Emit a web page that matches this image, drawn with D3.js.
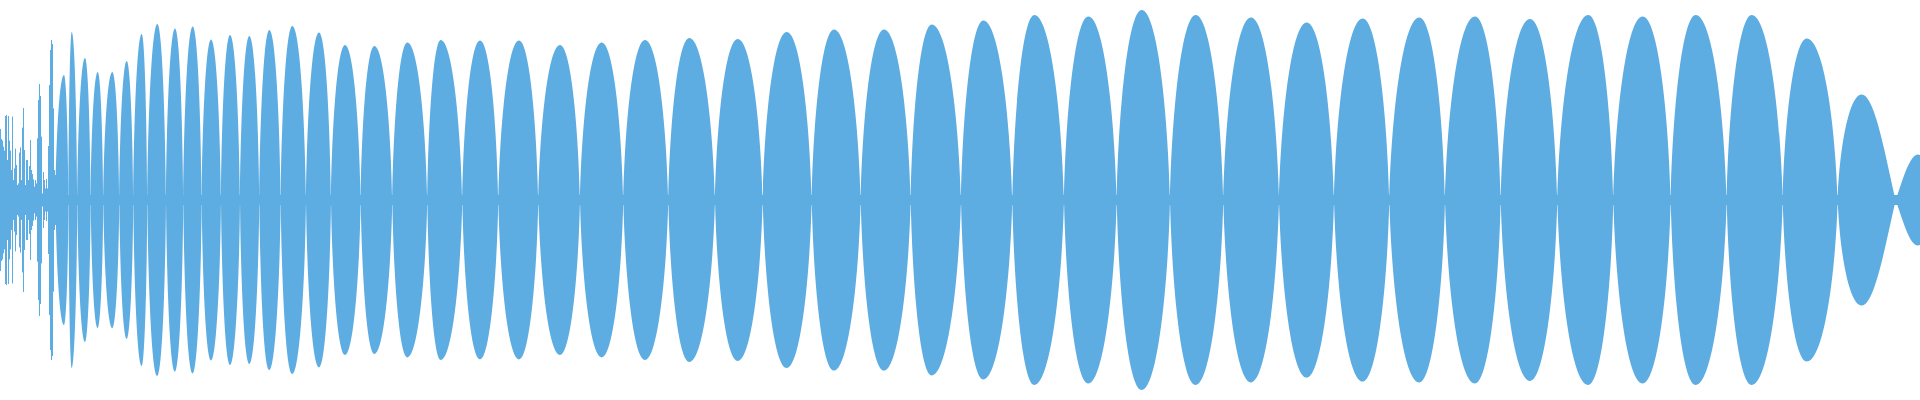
<!DOCTYPE html>
<html>
<head>
<meta charset="utf-8">
<script src="https://cdn.jsdelivr.net/npm/d3@7"></script>
<style>
  body { margin: 0; background: #fff; }
  svg { display: block; }
</style>
</head>
<body>
<div id="my_dataviz"></div>
<script>
// onset: one amplitude per sample column (t = 0, 1, 2, ...)
const onsetAmp = [
  0.355, 0.305, 0.297, 0.267, 0.247, 0.42, 0.425, 0.2, 0.42, 0.297,
  0.247, 0.15, 0.417, 0.1, 0.158, 0.257, 0.175, 0.075, 0.083, 0.237,
  0.263, 0.1, 0.362, 0.46, 0.25, 0.075, 0.2, 0.2, 0.1, 0.17,
  0.3, 0.15, 0.13, 0.103, 0.067, 0.1, 0.083, 0.308, 0.5, 0.58,
  0.52, 0.317, 0.033, 0.14, 0.1, 0.058, 0.105, 0.058, 0.27, 0.575,
  0.75, 0.8, 0.78, 0.458, 0.15, 0.125
];

// zero crossings of the main waveform (one more than lobes)
const crossT = [
  55.5, 68.5, 77.3, 90.7, 103.3, 119.3, 133.3, 147.3, 166, 183.3,
  201.7, 221, 240, 259.3, 280.7, 306, 331, 360.7, 392.3, 427.3,
  462.3, 498.3, 538.3, 580, 623.3, 668.3, 715, 762.7, 811.7, 860.7,
  910.7, 961, 1012.3, 1064, 1116.7, 1170, 1223.3, 1279, 1334, 1389.3,
  1445, 1500.7, 1557.3, 1613.3, 1670.7, 1726.7, 1782.7, 1837.7, 1895.7, 1940
];

// position of each lobe's peak
const peakT = [
  64, 71.7, 85, 97.7, 112.3, 126.7, 141.7, 157.3, 175, 192.7,
  211, 230, 249.3, 269.3, 292.3, 319, 345, 374.3, 407.3, 440.7,
  480, 519, 560, 601.7, 645, 689.3, 737.7, 786.7, 834, 884,
  931.7, 983.3, 1034.3, 1088.3, 1141.7, 1195.7, 1251, 1306.7, 1362.7, 1419.3,
  1475, 1530, 1588.3, 1642.7, 1695.7, 1751.7, 1806.7, 1861.7, 1918
];

// peak amplitude of each lobe
const peakAmp = [
  0.625, 0.84, 0.71, 0.64, 0.64, 0.695, 0.83, 0.88, 0.858, 0.867,
  0.803, 0.825, 0.82, 0.85, 0.87, 0.837, 0.775, 0.77, 0.787, 0.8,
  0.797, 0.797, 0.775, 0.787, 0.8, 0.81, 0.805, 0.84, 0.853, 0.853,
  0.877, 0.897, 0.925, 0.917, 0.95, 0.925, 0.912, 0.888, 0.908, 0.912,
  0.917, 0.905, 0.925, 0.917, 0.925, 0.925, 0.808, 0.528, 0.228
];

const floorAmp = 0.025;

// side profiles (bezier handles): full lobes are almond shaped, the fading tail is tapered
const fullSide = { q1x: 0.08, q1y: 0.5, q2x: 0.48 };
const taperSide = { q1x: 0.3, q1y: 0.42, q2x: 0.62 };
const taperFrom = { 47: "right", 48: "both" };

const width = 1920, height = 400;

const svg = d3.select("#my_dataviz")
  .append("svg")
  .attr("width", width)
  .attr("height", height);

svg.append("clipPath")
  .attr("id", "clip")
  .append("rect")
  .attr("width", width)
  .attr("height", height);

const x = d3.scaleLinear().domain([0, 1920]).range([0, width]);
const y = d3.scaleLinear().domain([-1, 1]).range([height, 0]);

const g = svg.append("g").attr("clip-path", "url(#clip)");
const color = "#5dade2";

// thin centre band left by the near-zero samples
g.append("rect")
  .attr("x", x(0))
  .attr("y", y(floorAmp))
  .attr("width", x(1920) - x(0))
  .attr("height", y(-floorAmp) - y(floorAmp))
  .attr("fill", color);

// onset columns
g.selectAll(".onset")
  .data(onsetAmp)
  .join("rect")
  .attr("class", "onset")
  .attr("x", (d, i) => x(i))
  .attr("width", x(1) - x(0))
  .attr("y", d => y(d))
  .attr("height", d => y(-d) - y(d))
  .attr("fill", color);

const lobes = peakT.map((t, i) => ({
  t0: crossT[i], tp: t, t1: crossT[i + 1], a: peakAmp[i],
  left: taperFrom[i] === "both" ? taperSide : fullSide,
  right: taperFrom[i] ? taperSide : fullSide
}));

// one lobe = top half + mirrored bottom half
function lobePath(d) {
  const p = d3.path();
  const x0 = x(d.t0), xp = x(d.tp), x1 = x(d.t1), yc = y(0);
  const dl = xp - x0, dr = x1 - xp;
  const L = d.left, R = d.right;
  [1, -1].forEach(s => {
    const dy = y(s * d.a) - yc;
    p.moveTo(x0, yc);
    p.bezierCurveTo(x0 + L.q1x * dl, yc + L.q1y * dy, x0 + L.q2x * dl, yc + dy, xp, yc + dy);
    p.bezierCurveTo(xp + (1 - R.q2x) * dr, yc + dy, x1 - R.q1x * dr, yc + R.q1y * dy, x1, yc);
    p.closePath();
  });
  return p.toString();
}

g.selectAll(".lobe")
  .data(lobes)
  .join("path")
  .attr("class", "lobe")
  .attr("d", lobePath)
  .attr("fill", color);
</script>
</body>
</html>
